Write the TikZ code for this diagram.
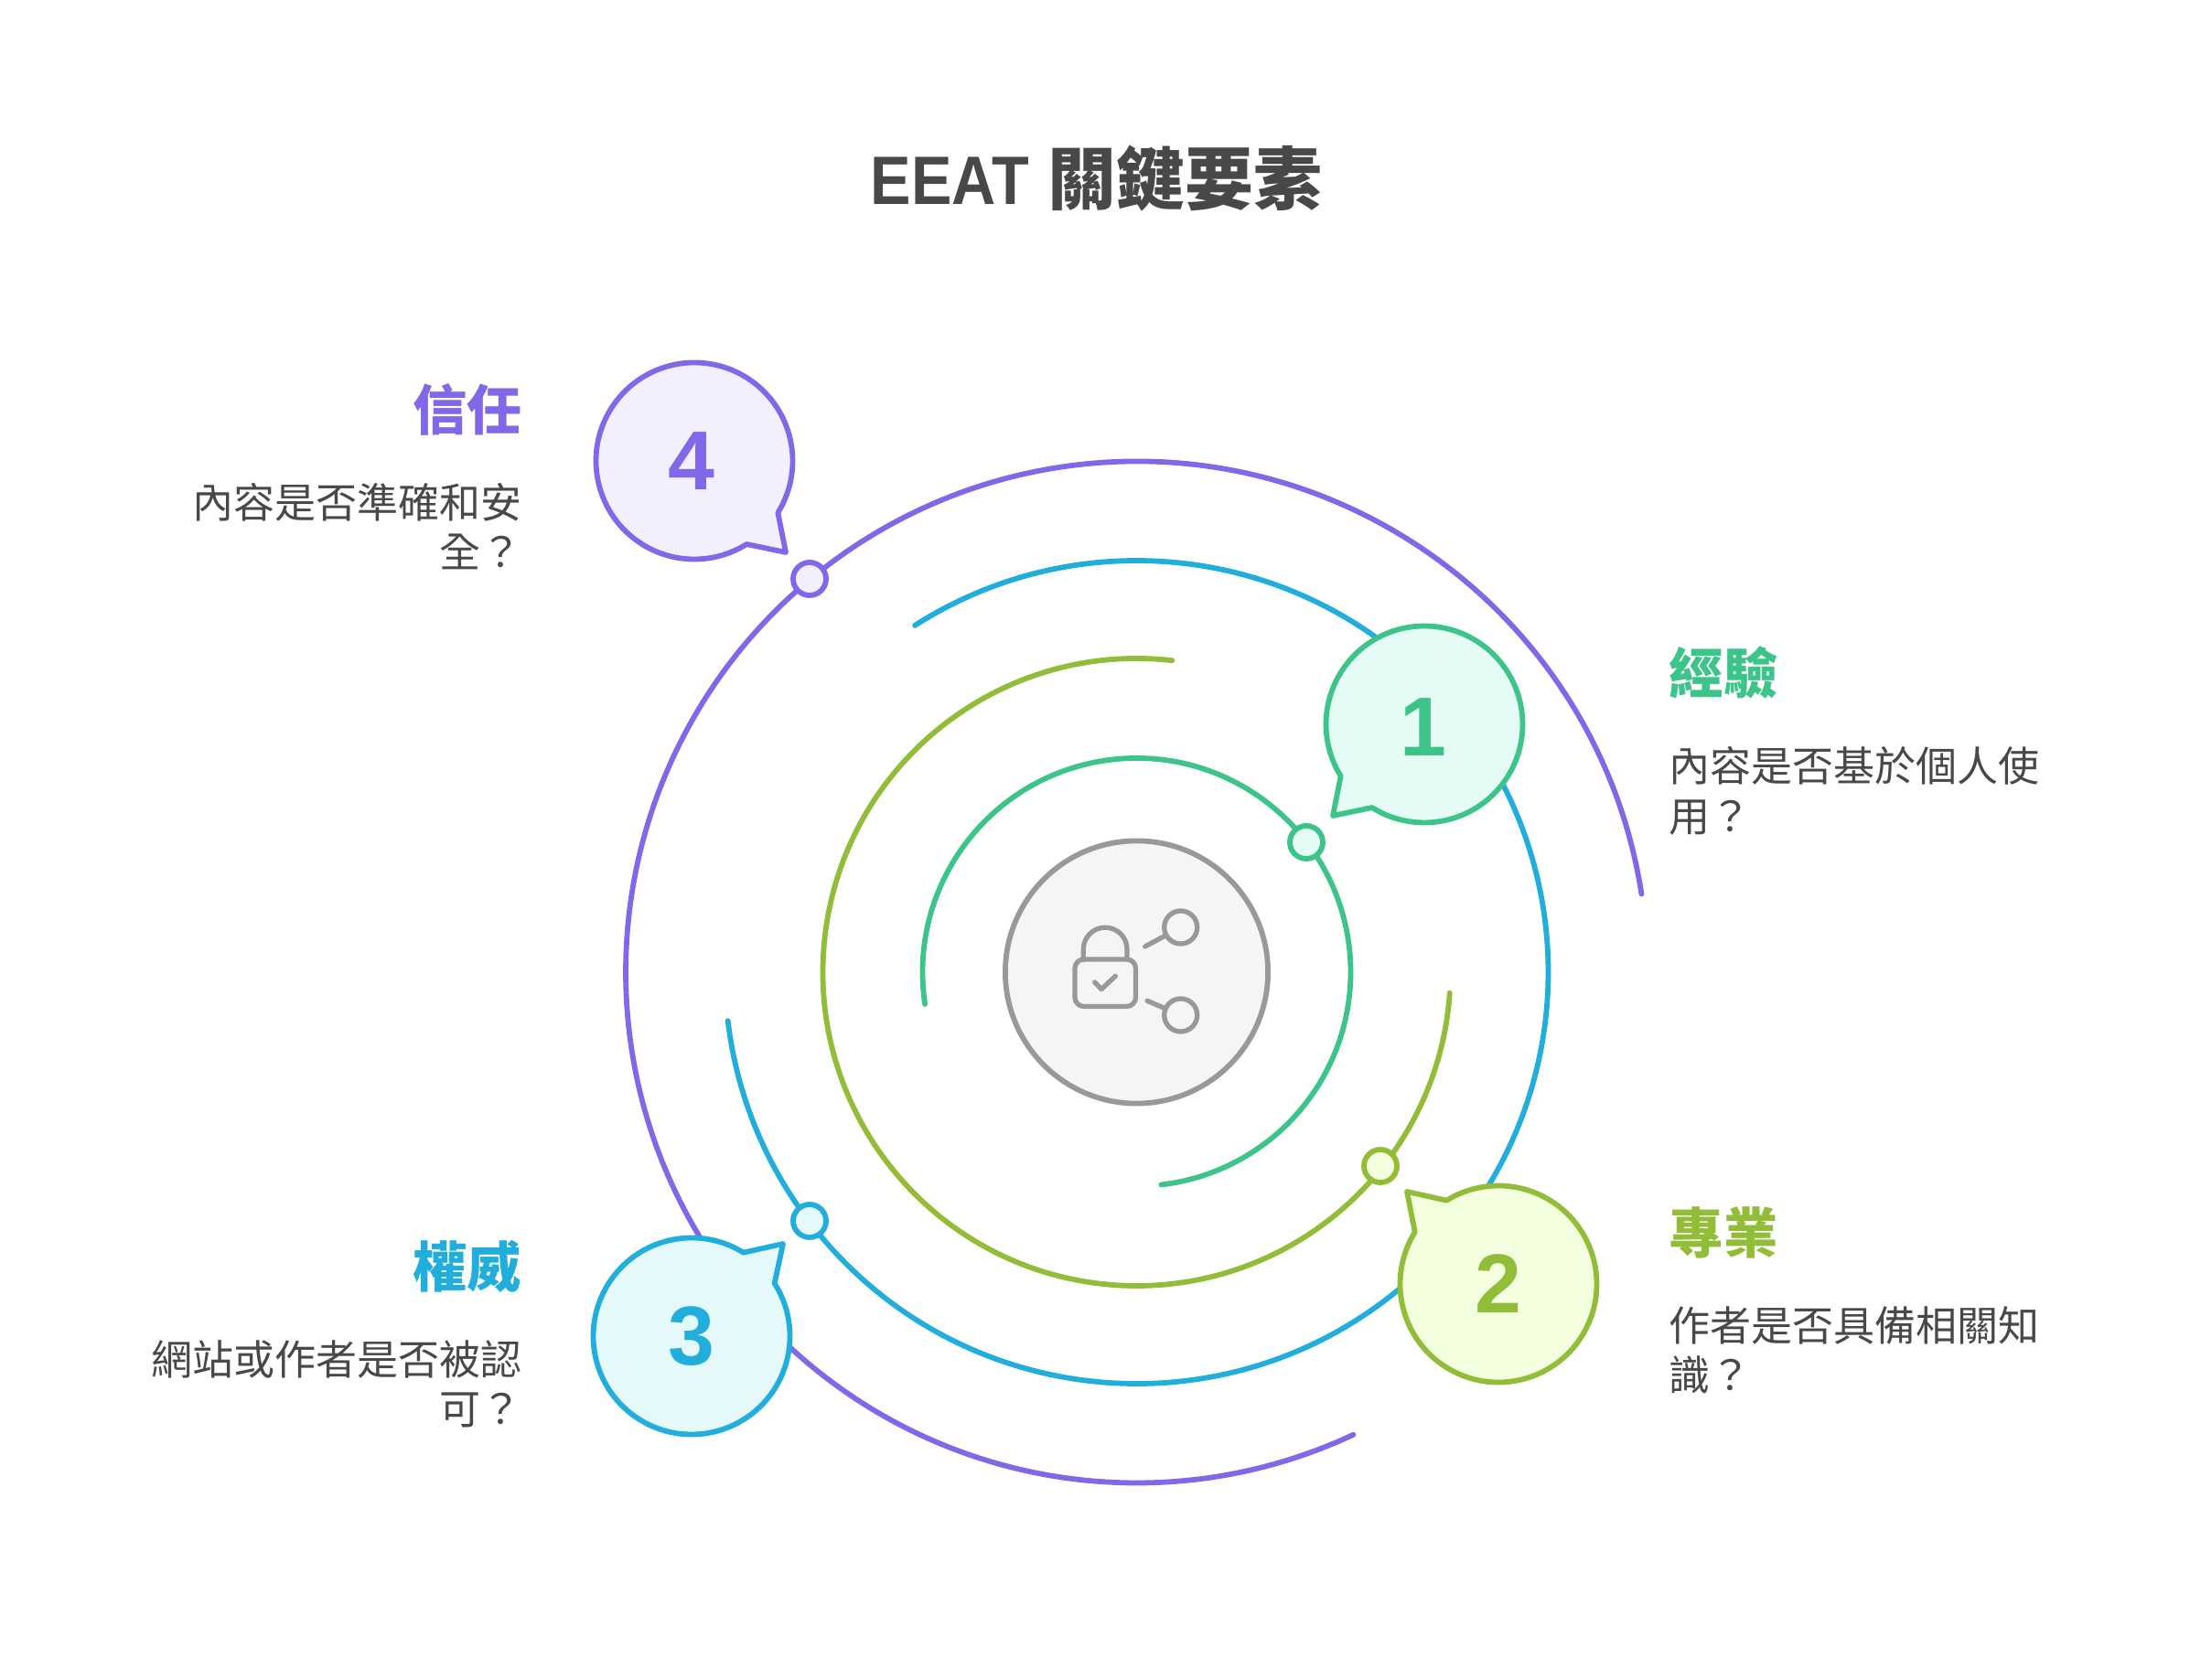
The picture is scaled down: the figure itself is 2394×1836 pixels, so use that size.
\documentclass[tikz,border=0pt]{standalone}
\usepackage{fontspec}
\setmainfont{Noto Sans CJK TC}
\newfontfamily\latinbold{Liberation Sans}[BoldFont={Liberation Sans Bold}]
\newfontfamily\titlebold{Liberation Sans Bold}[FakeStretch=0.89]
\usetikzlibrary{positioning}
\definecolor{inkgrey}{HTML}{484848}
\definecolor{hubgrey}{HTML}{999999}
\definecolor{hubpale}{HTML}{F5F5F5}
\definecolor{expgreen}{HTML}{3DC489}
\definecolor{exppale}{HTML}{E5FBF5}
\definecolor{proolive}{HTML}{92BD39}
\definecolor{propale}{HTML}{F3FFDE}
\definecolor{autblue}{HTML}{21AEDD}
\definecolor{autpale}{HTML}{E6F9FA}
\definecolor{trustpurple}{HTML}{8268E8}
\definecolor{trustpale}{HTML}{F2F0FF}
\tikzset{
  ring/.style={line width=1.65pt, line cap=round},
  bubble/.style={line width=1.65pt, line join=round},
  dot/.style={circle, draw, line width=1.65pt, minimum size=0.36cm, inner sep=0pt},
  digit/.style={font=\fontsize{26}{26}\latinbold\bfseries},
  head/.style={font=\fontsize{16.9}{20}\selectfont\bfseries, inner sep=0pt},
  bodytext/.style={font=\fontsize{12.8}{15.5}\selectfont, text=inkgrey, inner sep=0pt},
  icon/.style={draw=hubgrey, line width=1.5pt, line cap=round, line join=round},
}
\begin{document}
\begin{tikzpicture}[x=0.01cm, y=0.01cm]
  \useasboundingbox (0,0) rectangle (2394,1836);
  \node [inner sep=0pt, text=inkgrey, font=\fontsize{21.3}{25}\selectfont\bfseries] (title) at (1198.5,1641) {{\titlebold EEAT}\hspace{1pt} 關鍵要素};

  \node [circle, draw=hubgrey, fill=hubpale, line width=1.65pt, minimum size=2.87cm, inner sep=0pt] (hub) at (1242.5,773) {};

  % rings
  \draw [ring, expgreen] (hub.center) ++(188.6:234) arc [start angle=188.6, end angle=-83.4, radius=234];
  \draw [ring, proolive] (hub.center) ++(83.5:343) arc [start angle=83.5, end angle=356.2, radius=343];
  \draw [ring, autblue] (hub.center) ++(122.6:450) arc [start angle=122.6, end angle=54.3, radius=450];
  \draw [ring, autblue] (hub.center) ++(27.3:450) arc [start angle=27.3, end angle=-31.3, radius=450];
  \draw [ring, autblue] (hub.center) ++(-50.3:450) arc [start angle=-50.3, end angle=-173.2, radius=450];
  \draw [ring, trustpurple] (hub.center) ++(8.8:558.5) arc [start angle=8.8, end angle=211.6, radius=558.5];
  \draw [ring, trustpurple] (hub.center) ++(227.2:558.5) arc [start angle=227.2, end angle=295.1, radius=558.5];

  % ring dots
  \node [dot, draw=expgreen, fill=exppale] (d1) at (1428,915) {};
  \node [dot, draw=proolive, fill=propale] (d2) at (1509,561) {};
  \node [dot, draw=autblue, fill=autpale] (d3) at (885,501) {};
  \node [dot, draw=trustpurple, fill=trustpale] (d4) at (885,1203) {};

  % bubbles
  \coordinate (c1) at (1557,1044);
  \coordinate (c2) at (1638,432);
  \coordinate (c3) at (756,375);
  \coordinate (c4) at (759,1332);
  \draw [bubble, draw=expgreen, fill=exppale] (c1) ++(237.9:107.5) arc [start angle=237.9, delta angle=333.9, radius=107.5] -- (1457,944) -- cycle;
  \draw [bubble, draw=proolive, fill=propale] (c2) ++(148.1:107.5) arc [start angle=148.1, delta angle=333.7, radius=107.5] -- (1538,533) -- cycle;
  \draw [bubble, draw=autblue, fill=autpale] (c3) ++(58.2:107.5) arc [start angle=58.2, delta angle=334.3, radius=107.5] -- (856,476) -- cycle;
  \draw [bubble, draw=trustpurple, fill=trustpale] (c4) ++(-31.8:107.5) arc [start angle=-31.8, delta angle=333.9, radius=107.5] -- (859,1232) -- cycle;
  \node [digit, text=expgreen] (n1) at (1556,1041) {1};
  \node [digit, text=proolive] (n2) at (c2) {2};
  \node [digit, text=autblue] (n3) at (c3) {3};
  \node [digit, text=trustpurple] (n4) at (756,1332) {4};

  % labels
  \node [head, text=expgreen, anchor=west] (h1) at (1824,1100) {經驗};
  \node [bodytext, align=left, below=0.505cm of h1.south west, anchor=north west] (t1) {內容是否基於個人使\\用？};
  \node [head, text=proolive, anchor=west] (h2) at (1824,488) {專業};
  \node [bodytext, align=left, below=0.505cm of h2.south west, anchor=north west] (t2) {作者是否具備相關知\\識？};
  \node [head, text=autblue, anchor=east] (h3) at (571,451) {權威};
  \node [bodytext, align=right, below=0.505cm of h3.south east, anchor=north east] (t3) {網站或作者是否被認\\可？};
  \node [head, text=trustpurple, anchor=east] (h4) at (571,1388) {信任};
  \node [bodytext, align=right, below=0.505cm of h4.south east, anchor=north east] (t4) {內容是否準確和安\\全？};

  % hub icon
  \draw [icon, rounded corners=2.8pt] (1175,787) -- (1241.5,787) -- (1241.5,735.5) -- (1175,735.5) -- cycle;
  \draw [icon] (1184.3,787) -- (1184.3,798) arc [start angle=180, end angle=0, radius=23.85] -- (1232,787);
  \draw [icon] (1196.7,762) -- (1204,754.3) -- (1219.3,768.7);
  \node [dot, draw=hubgrey, line width=1.5pt] (k1) at (1290.7,822) {};
  \node [dot, draw=hubgrey, line width=1.5pt] (k2) at (1290.7,726) {};
  \coordinate (s1) at (1251.7,801);
  \coordinate (s2) at (1254,741.7);
  \draw [icon] (s1) -- (k1);
  \draw [icon] (s2) -- (k2);
\end{tikzpicture}
\end{document}
